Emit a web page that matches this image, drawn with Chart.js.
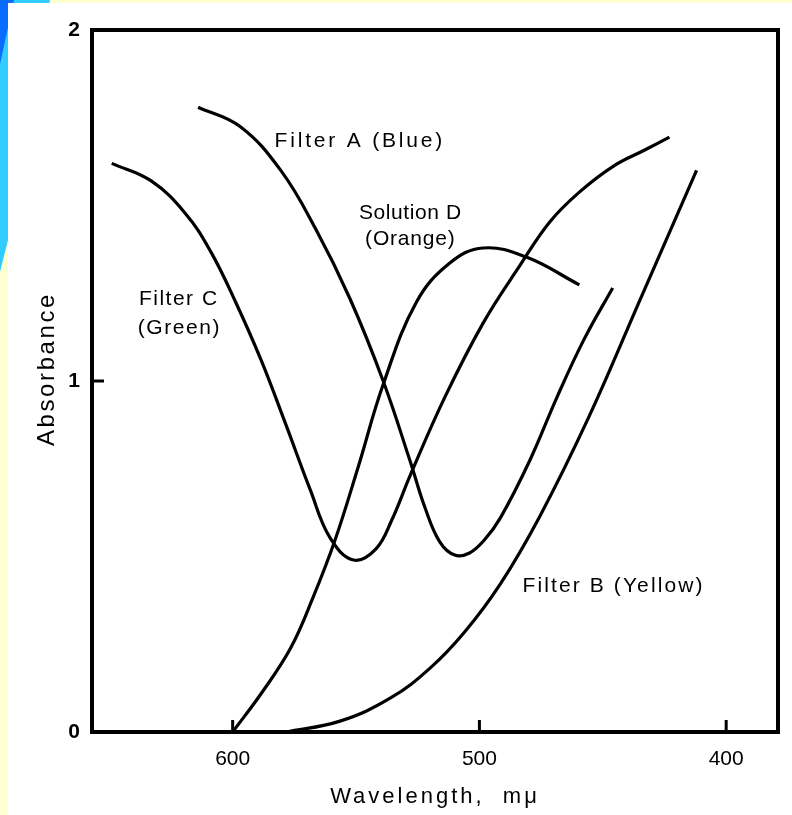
<!DOCTYPE html>
<html>
<head>
<meta charset="utf-8">
<script src="https://cdn.jsdelivr.net/npm/chart.js@4"></script>
<style>
  html, body { margin: 0; padding: 0; }
  body { width: 792px; height: 815px; background: #ffffd2; position: relative; overflow: hidden; }
  #deco1 { position: absolute; left: 0; top: 0; width: 60px; height: 280px; background: #33ccff;
           clip-path: polygon(0 0, 50px 0, 8px 240px, 0 272px); }
  #deco2 { position: absolute; left: 0; top: 0; width: 20px; height: 80px; background: #0a6cff;
           clip-path: polygon(0 0, 14px 0, 0 64px); }
  #card { position: absolute; left: 8px; top: 3px; right: 0; bottom: 0; background: #fff; }
  #wrap { position: absolute; left: 0; top: 0; width: 792px; height: 815px; }
</style>
</head>
<body>
<div id="deco1"></div>
<div id="deco2"></div>
<div id="card"></div>
<div id="wrap"><canvas id="grafico" width="792" height="815"></canvas></div>
<script>
// wavelength (m\u03bc) / absorbance
let filterAWave = [614, 597, 580.5, 566.5, 552.5, 539, 528, 522, 516, 510, 504, 498, 491.5, 479.5, 468.5, 457.5, 446];
let filterAAbs  = [1.78, 1.725, 1.60, 1.435, 1.235, 1.00, 0.77, 0.638, 0.541, 0.504, 0.51, 0.547, 0.61, 0.775, 0.955, 1.12, 1.265];

let filterBWave = [578.5, 556.5, 536, 520, 506, 491.5, 475.5, 455.5, 435, 412];
let filterBAbs  = [0.00, 0.031, 0.097, 0.182, 0.285, 0.422, 0.615, 0.90, 1.23, 1.60];

let filterCWave = [649, 633, 619, 609, 599, 588.5, 578.5, 568.5, 560.5, 551, 542, 535.5, 528, 514, 498.5, 483.5, 471.5, 459.5, 445.5, 433, 423];
let filterCAbs  = [1.62, 1.57, 1.476, 1.37, 1.228, 1.06, 0.877, 0.689, 0.553, 0.49, 0.521, 0.604, 0.732, 0.954, 1.165, 1.33, 1.453, 1.538, 1.613, 1.658, 1.695];

let solDWave = [600, 588, 576.5, 567.5, 558.5, 549, 539, 525.5, 512, 498.5, 481, 459.5];
let solDAbs  = [0.00, 0.114, 0.239, 0.382, 0.547, 0.758, 0.99, 1.225, 1.336, 1.379, 1.353, 1.274];

let xTicks = [600, 500, 400];
let yTicks = [0, 1, 2];

// curve captions, anchored in data units
let captions = [
    { text: 'Filter A (Blue)', x: 583, y: 1.683, align: 'left', gap: 2.8 },
    { text: 'Solution D', x: 528, y: 1.479, align: 'center', gap: 0.6 },
    { text: '(Orange)', x: 528, y: 1.405, align: 'center', gap: 0.8 },
    { text: 'Filter C', x: 638, y: 1.233, align: 'left', gap: 1.5 },
    { text: '(Green)', x: 638.5, y: 1.15, align: 'left', gap: 1.6 },
    { text: 'Filter B (Yellow)', x: 482.5, y: 0.415, align: 'left', gap: 2.1 }
];

const pts = (xs, ys) => xs.map((x, i) => ({ x: x, y: ys[i] }));

const curve = (label, xs, ys) => ({
    label: label,
    data: pts(xs, ys),
    showLine: true,
    borderColor: '#000',
    borderWidth: 3.2,
    pointRadius: 0,
    tension: 0.4,
    fill: false
});

const titleLook = { x: { gap: 3, dy: 0 }, y: { gap: 2.6, dy: -12 } };

const frame = {
    id: 'frame',
    afterLayout(chart) {
        for (const id of ['x', 'y']) {
            const s = chart.scales[id];
            if (s._spaced) continue;
            const orig = s.drawTitle.bind(s);
            s.drawTitle = function () {
                const ctx = chart.ctx;
                ctx.save();
                ctx.letterSpacing = titleLook[id].gap + 'px';
                ctx.translate(0, titleLook[id].dy);
                orig();
                ctx.restore();
            };
            s._spaced = true;
        }
    },
    afterDatasetsDraw(chart) {
        const { ctx, chartArea: a, scales } = chart;
        ctx.save();
        ctx.strokeStyle = '#000';
        ctx.lineWidth = 4;
        ctx.lineJoin = 'miter';
        ctx.strokeRect(a.left, a.top, a.right - a.left, a.bottom - a.top);
        ctx.lineWidth = 3;
        // inward tick marks
        for (const v of xTicks) {
            const px = scales.x.getPixelForValue(v);
            ctx.beginPath();
            ctx.moveTo(px, a.bottom);
            ctx.lineTo(px, a.bottom - 12);
            ctx.stroke();
        }
        for (const v of yTicks) {
            const py = scales.y.getPixelForValue(v);
            ctx.beginPath();
            ctx.moveTo(a.left, py);
            ctx.lineTo(a.left + 12, py);
            ctx.stroke();
        }
        ctx.fillStyle = '#000';
        ctx.font = '21px "Liberation Sans"';
        ctx.textBaseline = 'middle';
        for (const c of captions) {
            ctx.textAlign = c.align;
            ctx.letterSpacing = c.gap + 'px';
            ctx.fillText(c.text, scales.x.getPixelForValue(c.x), scales.y.getPixelForValue(c.y));
        }
        ctx.restore();
    }
};

const graphic = new Chart('grafico', {
    type: 'scatter',
    data: {
        datasets: [
            curve('Filter A (Blue)', filterAWave, filterAAbs),
            curve('Filter B (Yellow)', filterBWave, filterBAbs),
            curve('Filter C (Green)', filterCWave, filterCAbs),
            curve('Solution D (Orange)', solDWave, solDAbs)
        ]
    },
    options: {
        responsive: false,
        animation: false,
        layout: { padding: { top: 30, right: 14, left: 0, bottom: 0 } },
        plugins: { legend: { display: false }, tooltip: { enabled: false } },
        scales: {
            x: {
                type: 'linear',
                reverse: true,
                min: 379,
                max: 657,
                afterBuildTicks: (s) => { s.ticks = xTicks.map(v => ({ value: v })); },
                afterFit: (s) => { s.height = 83; },
                grid: { display: false, drawTicks: false },
                border: { display: false },
                ticks: { color: '#000', font: { family: 'Liberation Sans', size: 21 }, padding: 15 },
                title: {
                    display: true,
                    text: 'Wavelength,  m\u03bc',
                    color: '#000',
                    font: { family: 'Liberation Sans', size: 22 },
                    padding: { top: 0, bottom: 5 }
                }
            },
            y: {
                min: 0,
                max: 2,
                afterBuildTicks: (s) => { s.ticks = yTicks.map(v => ({ value: v })); },
                afterFit: (s) => { s.width = 92; },
                grid: { display: false, drawTicks: false },
                border: { display: false },
                ticks: { color: '#000', font: { family: 'Liberation Sans', size: 21, weight: 'bold' }, padding: 12 },
                title: {
                    display: true,
                    text: 'Absorbance',
                    color: '#000',
                    font: { family: 'Liberation Sans', size: 24 },
                    padding: { top: 33, bottom: 0 }
                }
            }
        }
    },
    plugins: [frame]
});
</script>
</body>
</html>
